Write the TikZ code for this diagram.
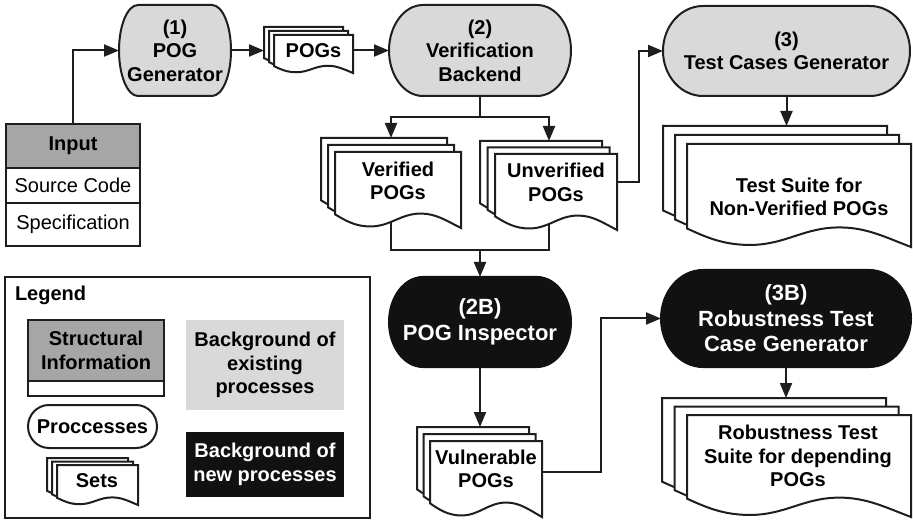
\documentclass[tikz,border=0pt]{standalone}
\usepackage{fontspec}
\setmainfont{Liberation Sans}
\usetikzlibrary{arrows.meta,calc,backgrounds}
\definecolor{procgray}{RGB}{217,217,217}
\definecolor{headgray}{RGB}{166,166,166}
\definecolor{newblack}{RGB}{17,17,17}
\definecolor{linec}{RGB}{30,30,30}
\newcommand\sheetshape[4]{%
  \begin{scope}[shift={({#1},{#2})}]
  \filldraw[sheet] (0,0) -- ({#3},0) -- ({#3},{#4})
    .. controls ({0.88*(#3)},{0.9*(#4)}) and ({0.8*(#3)},{0.81*(#4)}) .. ({0.68*(#3)},{0.81*(#4)})
    .. controls ({0.52*(#3)},{0.81*(#4)}) and ({0.44*(#3)},{0.98*(#4)}) .. ({0.28*(#3)},{0.98*(#4)})
    .. controls ({0.16*(#3)},{0.98*(#4)}) and ({0.08*(#3)},{0.9*(#4)}) .. (0,{0.82*(#4)}) -- cycle;
  \end{scope}}
\newcommand\docstack[7]{%
  \sheetshape{#2-2*(#6)}{#3-2*(#7)}{#4}{#5}%
  \sheetshape{#2-(#6)}{#3-(#7)}{#4}{#5}%
  \sheetshape{#2}{#3}{#4}{#5}%
  \node[helper, minimum width=#4pt, minimum height=#5pt] (#1F) at (#2,#3) {};
  \node[helper, minimum width=#4pt, minimum height=#5pt] (#1B) at ({#2-2*(#6)},{#3-2*(#7)}) {};
}
% stadium outline: cx cy w h rx style
\newcommand\stadium[6]{%
  \pgfmathsetmacro\stry{(#4)/2}%
  \filldraw[#6] ({#1-(#3)/2+(#5)},{#2-(#4)/2}) -- ({#1+(#3)/2-(#5)},{#2-(#4)/2})
    arc[start angle=90,end angle=-90,x radius=#5pt,y radius=\stry pt]
    -- ({#1-(#3)/2+(#5)},{#2+(#4)/2})
    arc[start angle=270,end angle=90,x radius=#5pt,y radius=\stry pt] -- cycle;}
\begin{document}
\begin{tikzpicture}[x=1pt,y=-1pt,
  every node/.style={font=\fontsize{20}{23.5}\selectfont\bfseries, inner sep=0pt, outer sep=0pt},
  regular/.style={font=\fontsize{20}{23.5}\selectfont},
  procshape/.style={draw=linec, line width=2pt, fill=procgray},
  newshape/.style={draw=newblack, line width=2pt, fill=newblack},
  whiteshape/.style={draw=linec, line width=2pt, fill=white},
  proc/.style={align=center},
  newproc/.style={align=center, text=white, font=\fontsize{22}{25.5}\selectfont\bfseries},
  sheet/.style={draw=linec, fill=white, line width=2pt},
  conn/.style={draw=linec, line width=2pt},
  arr/.style={conn, -{Triangle[length=15pt,width=12pt]}},
  helper/.style={inner sep=0pt, outer sep=0pt, anchor=north west},
  tbl/.style={draw=linec, line width=2pt, anchor=north west, minimum width=134pt},
  stext/.style={align=center}
  ]
\useasboundingbox (0,0) rectangle (913,521);

% processes
\stadium{175}{50.5}{112}{91}{19}{procshape}
\node[proc, minimum width=112pt, minimum height=91pt] (pog) at (175,50.5) {(1)\\POG\\Generator};
\stadium{480}{50.5}{182}{91}{34}{procshape}
\node[proc, minimum width=182pt, minimum height=91pt] (vb) at (480,50.5) {(2)\\Verification\\Backend};
\stadium{786.5}{51}{247}{90}{40}{procshape}
\node[proc, minimum width=247pt, minimum height=90pt] (tcg) at (786.5,51) {(3)\\Test Cases Generator};
\stadium{480}{322}{182}{90}{34}{newshape}
\node[newproc, minimum width=182pt, minimum height=90pt] (pi) at (480,322) {(2B)\\POG Inspector};
\stadium{786}{318.5}{250}{97}{42}{newshape}
\node[newproc, minimum width=250pt, minimum height=97pt] (rob) at (786,318.5) {(3B)\\Robustness Test\\Case Generator};

% input table
\node[tbl, fill=headgray, minimum height=44pt] (inhead) at (6,124) {Input};
\node[tbl, regular, fill=white, minimum height=35pt] (src) at (inhead.south west) {Source Code};
\node[tbl, regular, fill=white, minimum height=43pt] (spec) at (src.south west) {Specification};

% sets
\docstack{pogs}{274}{35}{79}{38}{5}{4}
\node (pogsT) at (313.5,51) {POGs};
\docstack{ver}{335}{152}{126}{76}{7}{7}
\node[stext] (verT) at (398,181) {Verified\\POGs};
\docstack{unv}{495}{154}{122}{76}{7.5}{6.5}
\node[stext] (unvT) at (556,182.5) {Unverified\\POGs};
\docstack{ts}{687}{144}{224}{103}{12}{9}
\node[stext] (tsT) at (799,197) {Test Suite for\\Non-Verified POGs};
\docstack{vul}{430}{441}{112}{76}{6.5}{7}
\node[stext] (vulT) at (486,469) {Vulnerable\\POGs};
\docstack{rs}{687}{415}{224}{102}{12.5}{8.5}
\node[stext] (rsT) at (798,456) {Robustness Test\\Suite for depending\\POGs};

% legend
\node[draw=linec, line width=2pt, minimum width=365pt, minimum height=241pt, anchor=north west] (legend) at (5,277) {};
\node[anchor=west] (legtitle) at (15,295) {Legend};
\node[draw=linec, line width=2pt, fill=headgray, minimum width=136pt, minimum height=61pt, anchor=north west, align=center] (lstruct) at (28,320) {Structural\\Information};
\node[draw=linec, line width=2pt, fill=white, minimum width=136pt, minimum height=15pt, anchor=north west] (lstructrow) at (lstruct.south west) {};
\node[fill=procgray, minimum width=158pt, minimum height=90pt, anchor=north west, align=center] (lexist) at (186,320) {Background of\\existing\\processes};
\stadium{92.5}{426.5}{129}{43}{21}{whiteshape}
\node[proc, minimum width=129pt, minimum height=43pt] (lproc) at (92.5,426.5) {Proccesses};
\docstack{lsets}{57}{465}{81}{40}{5}{3.5}
\node (lsetsT) at (97,481) {Sets};
\node[fill=newblack, text=white, minimum width=158pt, minimum height=65pt, anchor=north west, align=center] (lnew) at (186,432) {Background of\\new processes};

% connectors
\begin{pgfonlayer}{background}
\draw[arr] (inhead.north) |- (pog.west);
\draw[arr] (pog.east) -- (pog.east -| pogsB.west);
\draw[arr] (vb.west -| pogsF.east) -- (vb.west);
\coordinate (j1) at (vb.south |- 0,117);
\coordinate (verIn) at ($(verB.north)+(7,0)$);
\coordinate (unvIn) at ($(unvB.north)+(8,0)$);
\draw[conn] (vb.south) -- (j1);
\draw[arr] (j1) -| (verIn);
\draw[arr] (j1) -| (unvIn);
\coordinate (unvOut) at (unvF.east |- unvT.center);
\draw[arr] (unvOut) -- ++(22,0) |- (tcg.west);
\draw[arr] (tcg.south) -- (tcg.south |- tsB.north);
\coordinate (j2) at (pi.north |- 0,250);
\draw[conn] (verIn |- verT.center) |- (j2);
\draw[conn] (unvIn |- unvT.center) |- (j2);
\draw[arr] (j2) -- (pi.north);
\draw[arr] (pi.south) -- (pi.south |- vulB.north);
\coordinate (vulOut) at ($(vulF.east |- vulT.center)+(0,3)$);
\draw[arr] (vulOut) -- ++(59,0) |- (rob.west);
\draw[arr] (rob.south) -- (rob.south |- rsB.north);
\end{pgfonlayer}
\end{tikzpicture}
\end{document}
